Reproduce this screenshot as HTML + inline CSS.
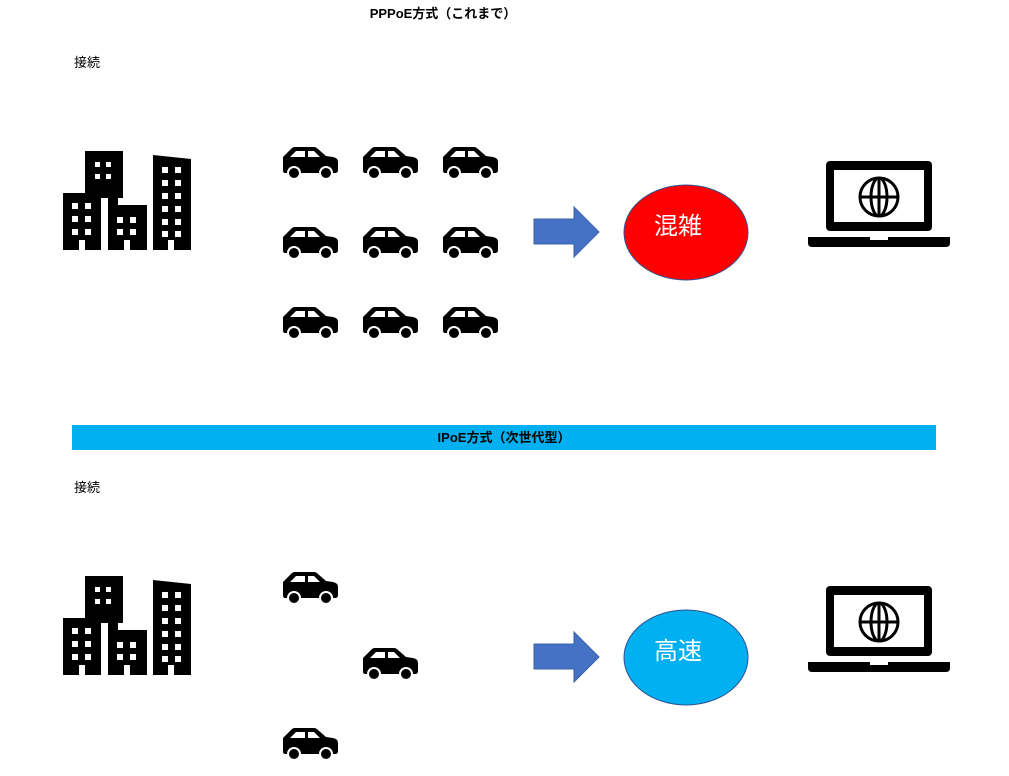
<!DOCTYPE html>
<html><head><meta charset="utf-8"><style>
html,body{margin:0;padding:0;background:#fff;}
svg{display:block;}
text{font-family:"Liberation Sans","Noto Sans CJK JP",sans-serif;}
</style></head><body>
<svg width="1009" height="776" viewBox="0 0 1009 776" xmlns="http://www.w3.org/2000/svg">
<defs>
<g id="bld">
  <path d="M85 151H123V198H118V205H108V198H85Z" fill="#000"/>
  <rect x="63" y="193" width="38" height="57" fill="#000"/>
  <rect x="108" y="205" width="39" height="45" fill="#000"/>
  <path d="M153 155L191 159V250H153Z" fill="#000"/>
  <g fill="#fff">
    <rect x="95" y="162" width="5" height="5"/><rect x="106" y="162" width="5" height="5"/>
    <rect x="95" y="174" width="5" height="5"/><rect x="106" y="174" width="5" height="5"/>
    <rect x="72" y="203" width="6" height="6"/><rect x="85" y="203" width="6" height="6"/>
    <rect x="72" y="216" width="6" height="6"/><rect x="85" y="216" width="6" height="6"/>
    <rect x="72" y="229" width="6" height="6"/><rect x="85" y="229" width="6" height="6"/>
    <rect x="79" y="240" width="6" height="10"/>
    <rect x="117" y="217" width="6" height="6"/><rect x="130" y="217" width="6" height="6"/>
    <rect x="117" y="229" width="6" height="6"/><rect x="130" y="229" width="6" height="6"/>
    <rect x="124" y="240" width="6" height="10"/>
    <rect x="162" y="167" width="6" height="6"/><rect x="175" y="167" width="6" height="6"/>
    <rect x="162" y="180" width="6" height="6"/><rect x="175" y="180" width="6" height="6"/>
    <rect x="162" y="193" width="6" height="6"/><rect x="175" y="193" width="6" height="6"/>
    <rect x="162" y="206" width="6" height="6"/><rect x="175" y="206" width="6" height="6"/>
    <rect x="162" y="219" width="6" height="6"/><rect x="175" y="219" width="6" height="6"/>
    <rect x="162" y="231" width="6" height="6"/><rect x="175" y="231" width="6" height="6"/>
    <rect x="168" y="240" width="6" height="10"/>
  </g>
</g>
<g id="car">
  <path d="M1 10 L10 1 Q11 0 13 0 H32 Q34 0 36 2 L44 9 L51 10 Q56 11 56 15 V23 Q56 26 53 26 H3 Q1 26 1 23 Z" fill="#000"/>
  <path d="M8 10 L14 4 H23 V10 Z M26 4 H32 L38 10 H26 Z" fill="#fff"/>
  <circle cx="12" cy="26" r="7" fill="#fff"/><circle cx="12" cy="26" r="5" fill="#000"/>
  <circle cx="44" cy="26" r="7" fill="#fff"/><circle cx="44" cy="26" r="5" fill="#000"/>
</g>
<g id="lap">
  <rect x="826" y="161" width="106" height="70" rx="4" fill="#000"/>
  <rect x="834" y="170" width="90" height="52" fill="#fff"/>
  <path d="M808 237H950V243Q950 247 946 247H812Q808 247 808 243Z" fill="#000"/>
  <rect x="870" y="237" width="18" height="3" fill="#fff"/>
  <g fill="none" stroke="#000" stroke-width="3">
    <circle cx="879" cy="197" r="19"/>
    <ellipse cx="879" cy="197" rx="8" ry="19"/>
    <line x1="860" y1="197" x2="898" y2="197"/>
    <line x1="879" y1="178" x2="879" y2="216"/>
  </g>
</g>
<path id="arr" d="M534 219H574V207L599 232L574 257V244H534Z" fill="#4472c4" stroke="#3a62ad" stroke-width="1"/>
</defs>

<text x="443" y="18" font-size="13" font-weight="bold" text-anchor="middle">PPPoE方式（これまで）</text>
<text x="74" y="67" font-size="13">接続</text>
<use href="#bld"/>
<use href="#car" x="282" y="147"/><use href="#car" x="362" y="147"/><use href="#car" x="442" y="147"/>
<use href="#car" x="282" y="227"/><use href="#car" x="362" y="227"/><use href="#car" x="442" y="227"/>
<use href="#car" x="282" y="307"/><use href="#car" x="362" y="307"/><use href="#car" x="442" y="307"/>
<use href="#arr"/>
<ellipse cx="686" cy="232.5" rx="62" ry="47.5" fill="#ff0000" stroke="#2f528f" stroke-width="1"/>
<text x="678" y="234" font-size="24" fill="#fff" text-anchor="middle">混雑</text>
<use href="#lap"/>

<rect x="72" y="425" width="864" height="25" fill="#00b0f0"/>
<text x="504" y="442" font-size="13" font-weight="bold" text-anchor="middle">IPoE方式（次世代型）</text>
<text x="74" y="492" font-size="13">接続</text>
<g transform="translate(0,425)">
<use href="#bld"/>
<use href="#arr"/>
<ellipse cx="686" cy="232.5" rx="62" ry="47.5" fill="#00b0f0" stroke="#2f528f" stroke-width="1"/>
<text x="678" y="234" font-size="24" fill="#fff" text-anchor="middle">高速</text>
<use href="#lap"/>
</g>
<use href="#car" x="282" y="572"/>
<use href="#car" x="362" y="648"/>
<use href="#car" x="282" y="728"/>
</svg>
</body></html>
